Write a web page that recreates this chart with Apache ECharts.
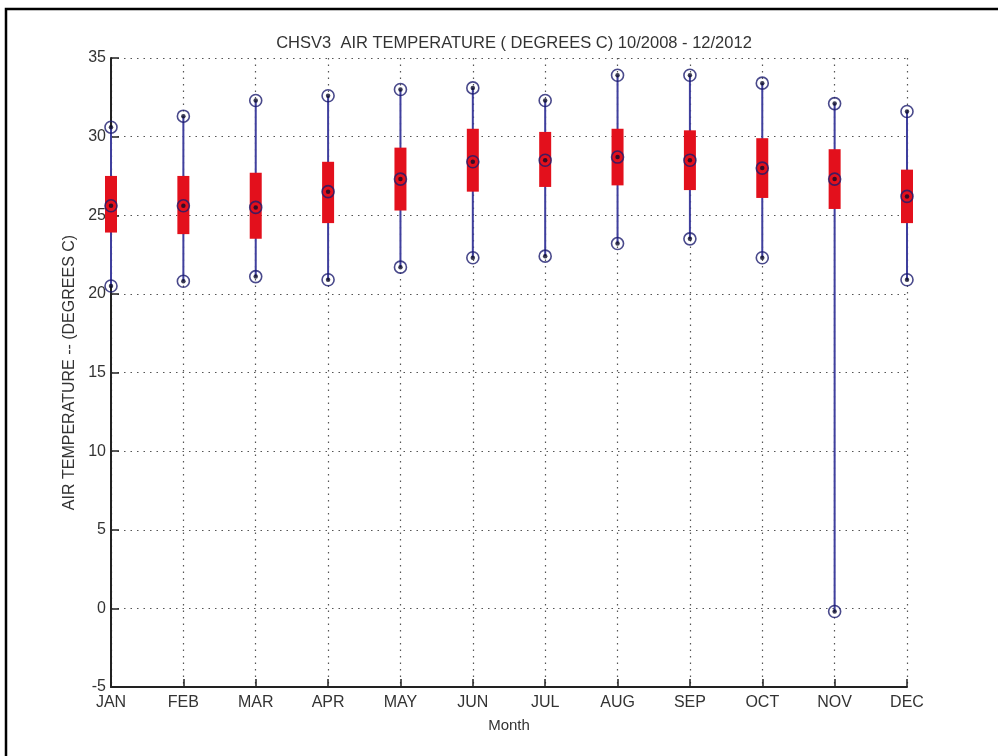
<!DOCTYPE html>
<html>
<head>
<meta charset="utf-8">
<title>CHSV3 air temperature</title>
<script src="https://cdn.jsdelivr.net/npm/echarts@6/dist/echarts.min.js"></script>
<style>
  html, body { margin: 0; padding: 0; background: #fff; }
  #chart { width: 998px; height: 756px; }
</style>
</head>
<body>
<div id="chart"></div>
<script>
// month categories
var months = ['JAN', 'FEB', 'MAR', 'APR', 'MAY', 'JUN', 'JUL', 'AUG', 'SEP', 'OCT', 'NOV', 'DEC'];
// monthly stats (deg C)
var tMin    = [20.5, 20.8, 21.1, 20.9, 21.7, 22.3, 22.4, 23.2, 23.5, 22.3, -0.2, 20.9];
var tQ1     = [23.9, 23.8, 23.5, 24.5, 25.3, 26.5, 26.8, 26.9, 26.6, 26.1, 25.4, 24.5];
var tMedian = [25.6, 25.6, 25.5, 26.5, 27.3, 28.4, 28.5, 28.7, 28.5, 28.0, 27.3, 26.2];
var tQ3     = [27.5, 27.5, 27.7, 28.4, 29.3, 30.5, 30.3, 30.5, 30.4, 29.9, 29.2, 27.9];
var tMax    = [30.6, 31.3, 32.3, 32.6, 33.0, 33.1, 32.3, 33.9, 33.9, 33.4, 32.1, 31.6];
// y ticks
var yMin = -5, yMax = 35, yStep = 5;

var font = 'Liberation Sans, Arial, Helvetica, sans-serif';
var textColor = '#333';

// [index, min, q1, q3, max] for the custom box drawing
var boxData = months.map(function (m, i) {
  return [i, tMin[i], tQ1[i], tQ3[i], tMax[i]];
});
// all marker points: min, median, max
var markerData = [];
months.forEach(function (m, i) {
  markerData.push([i, tMin[i]], [i, tMedian[i]], [i, tMax[i]]);
});

var chart = echarts.init(document.getElementById('chart'));

var option = {
  backgroundColor: '#fff',
  animation: false,
  textStyle: { fontFamily: font },
  title: {
    text: 'CHSV3  AIR TEMPERATURE ( DEGREES C) 10/2008 - 12/2012',
    left: 509,
    textAlign: 'center',
    top: 30,
    textStyle: { fontFamily: font, fontSize: 16.5, fontWeight: 'normal', color: textColor }
  },
  // frame around the figure (top and left edges visible)
  graphic: [{
    type: 'rect',
    shape: { x: 6, y: 9, width: 1100, height: 1000 },
    style: { fill: 'none', stroke: '#000', lineWidth: 2.5 },
    silent: true
  }],
  grid: { left: 111, right: 91, top: 58, bottom: 69 },
  xAxis: {
    type: 'category',
    data: months,
    boundaryGap: false,
    name: 'Month',
    nameLocation: 'middle',
    nameGap: 31,
    nameTextStyle: { fontSize: 15, color: textColor, fontFamily: font },
    axisLine: { onZero: false, lineStyle: { color: '#222', width: 2 } },
    axisTick: { inside: true, length: 8, alignWithLabel: true, lineStyle: { color: '#222', width: 1.5 } },
    axisLabel: { fontSize: 16, color: textColor, margin: 8, interval: 0, fontFamily: font },
    splitLine: { show: true, lineStyle: { color: '#555', type: [1.5, 5], width: 1.2 } }
  },
  yAxis: {
    type: 'value',
    min: yMin,
    max: yMax,
    interval: yStep,
    name: 'AIR TEMPERATURE -- (DEGREES C)',
    nameLocation: 'middle',
    nameGap: 27,
    nameTextStyle: { fontSize: 16, color: textColor, fontFamily: font },
    axisLine: { show: true, onZero: false, lineStyle: { color: '#222', width: 2 } },
    axisTick: { show: true, inside: true, length: 8, lineStyle: { color: '#222', width: 1.5 } },
    axisLabel: { fontSize: 16, color: textColor, margin: 5, fontFamily: font },
    splitLine: { show: true, lineStyle: { color: '#555', type: [1.5, 5], width: 1.2 } }
  },
  series: [
    {
      // whisker + interquartile box
      type: 'custom',
      data: boxData,
      encode: { x: 0, y: [1, 2, 3, 4] },
      renderItem: function (params, api) {
        var i = api.value(0);
        var lo = api.coord([i, api.value(1)]);
        var q1 = api.coord([i, api.value(2)]);
        var q3 = api.coord([i, api.value(3)]);
        var hi = api.coord([i, api.value(4)]);
        var w = 12;
        return {
          type: 'group',
          children: [
            {
              type: 'line',
              shape: { x1: lo[0], y1: lo[1], x2: hi[0], y2: hi[1] },
              style: { stroke: '#3f3f9e', lineWidth: 2 }
            },
            {
              type: 'rect',
              shape: { x: q3[0] - w / 2, y: q3[1], width: w, height: q1[1] - q3[1] },
              style: { fill: '#e3101c', stroke: null }
            }
          ]
        };
      },
      z: 2
    },
    {
      // ring markers
      type: 'scatter',
      data: markerData,
      symbol: 'circle',
      symbolSize: 12,
      itemStyle: { color: 'rgba(0,0,0,0)', borderColor: '#1c1c6e', borderWidth: 1.6 },
      z: 3
    },
    {
      // centre dots
      type: 'scatter',
      data: markerData,
      symbol: 'circle',
      symbolSize: 4.5,
      itemStyle: { color: '#0b0b2a' },
      z: 4
    }
  ]
};

chart.setOption(option);
</script>
</body>
</html>
